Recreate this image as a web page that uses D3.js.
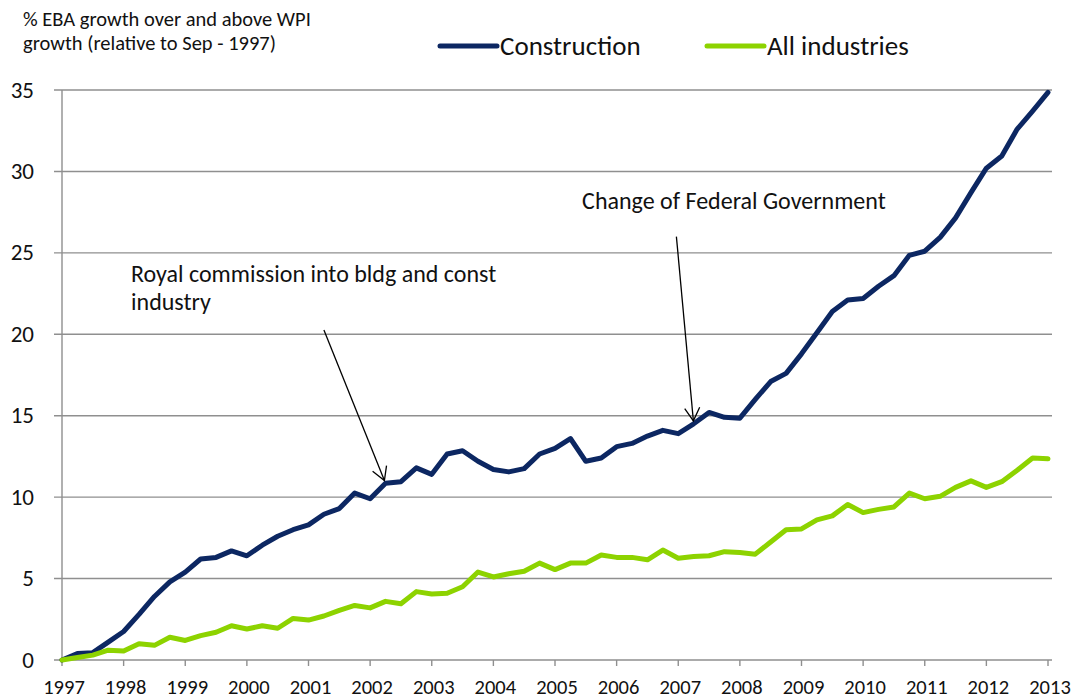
<!DOCTYPE html>
<html>
<head>
<meta charset="utf-8">
<script src="https://cdn.jsdelivr.net/npm/d3@7"></script>
<style>
  body { margin: 0; background: #fff; }
  svg { display: block; font-family: Carlito, Lato, sans-serif; }
</style>
</head>
<body>
<div id="chart"></div>
<script>
'use strict';

// quarterly series, first point = Sep 1997
const startYear = 1997;
const endYear = 2013;
const construction = [
  0, 0.4, 0.45, 1.1, 1.75, 2.8, 3.9, 4.8, 5.4, 6.2, 6.3, 6.7, 6.4, 7.05, 7.6, 8.0,
  8.3, 8.95, 9.3, 10.25, 9.9, 10.85, 10.95, 11.8, 11.4, 12.65, 12.85, 12.2, 11.7, 11.55, 11.75, 12.65,
  13.0, 13.6, 12.2, 12.4, 13.1, 13.3, 13.75, 14.1, 13.9, 14.5, 15.2, 14.9, 14.85, 16.0, 17.1, 17.6,
  18.8, 20.1, 21.4, 22.1, 22.2, 22.95, 23.6, 24.85, 25.1, 25.95, 27.15, 28.7, 30.2, 30.95, 32.6, 33.7,
  34.85
];
const allIndustries = [
  0, 0.15, 0.3, 0.6, 0.55, 1.0, 0.9, 1.4, 1.2, 1.5, 1.7, 2.1, 1.9, 2.1, 1.95, 2.55,
  2.45, 2.7, 3.05, 3.35, 3.2, 3.6, 3.45, 4.2, 4.05, 4.1, 4.5, 5.4, 5.1, 5.3, 5.45, 5.95,
  5.55, 5.95, 5.95, 6.45, 6.3, 6.3, 6.15, 6.75, 6.25, 6.35, 6.4, 6.65, 6.6, 6.5, 7.25, 8.0,
  8.05, 8.6, 8.85, 9.55, 9.05, 9.25, 9.4, 10.25, 9.9, 10.05, 10.6, 11.0, 10.6, 10.95, 11.65, 12.4,
  12.35
];
const seriesNames = ['Construction', 'All industries'];
const seriesColors = ['#0c2762', '#8dd300'];
const yTicks = [0, 5, 10, 15, 20, 25, 30, 35];
const xTicks = d3.range(startYear, endYear + 1);
const titleLines = ['% EBA growth over and above WPI', 'growth (relative to Sep - 1997)'];
const annotationTexts = [
  ['Royal commission into bldg and const', 'industry'],
  ['Change of Federal Government']
];
const annotationQuarters = [21, 41];

const width = 1080;
const height = 699;
const margin = {top: 90, right: 32, bottom: 39, left: 62};

const svg = d3.select('#chart')
  .append('svg')
  .attr('width', width)
  .attr('height', height);

const x = d3.scaleLinear()
  .domain([startYear, endYear])
  .range([margin.left, width - margin.right]);

const y = d3.scaleLinear()
  .domain([0, 35])
  .range([height - margin.bottom, margin.top]);

const quarterYear = i => startYear + i / 4;

// gridlines + y ticks
svg.append('g')
  .selectAll('line')
  .data(yTicks.filter(d => d > 0))
  .enter()
  .append('line')
  .attr('x1', margin.left - 8)
  .attr('x2', x(endYear) + 4)
  .attr('y1', d => y(d))
  .attr('y2', d => y(d))
  .attr('stroke', '#8f8f8f')
  .attr('stroke-width', 1.4);

svg.append('g')
  .selectAll('text')
  .data(yTicks)
  .enter()
  .append('text')
  .attr('x', 34)
  .attr('y', d => y(d))
  .attr('dy', '0.33em')
  .attr('text-anchor', 'end')
  .style('font-size', '23px')
  .style('fill', '#111')
  .text(d => d);

// axes lines
svg.append('line')
  .attr('x1', x(startYear))
  .attr('x2', x(startYear))
  .attr('y1', y(35))
  .attr('y2', y(0))
  .attr('stroke', '#8f8f8f')
  .attr('stroke-width', 1.4);

svg.append('line')
  .attr('x1', margin.left - 8)
  .attr('x2', x(endYear) + 4)
  .attr('y1', y(0))
  .attr('y2', y(0))
  .attr('stroke', '#8f8f8f')
  .attr('stroke-width', 1.4);

const xTickGroup = svg.append('g')
  .selectAll('g')
  .data(xTicks)
  .enter()
  .append('g');

xTickGroup.append('line')
  .attr('x1', d => x(d))
  .attr('x2', d => x(d))
  .attr('y1', y(0))
  .attr('y2', y(0) + 6)
  .attr('stroke', '#8f8f8f')
  .attr('stroke-width', 1.4);

xTickGroup.append('text')
  .attr('x', d => x(d) + 2)
  .attr('y', y(0) + 34)
  .attr('text-anchor', 'middle')
  .style('font-size', '20.5px')
  .style('fill', '#111')
  .text(d => d);

// series lines
const line = d3.line()
  .x((d, i) => x(quarterYear(i)))
  .y(d => y(d));

[construction, allIndustries].forEach(function(series, k){
  svg.append('path')
    .datum(series)
    .attr('d', line)
    .attr('fill', 'none')
    .attr('stroke', seriesColors[k])
    .attr('stroke-width', 5)
    .attr('stroke-linejoin', 'round')
    .attr('stroke-linecap', 'round');
});

// title
svg.append('text')
  .attr('x', 23)
  .attr('y', 26)
  .style('font-size', '20.5px')
  .style('fill', '#111')
  .selectAll('tspan')
  .data(titleLines)
  .enter()
  .append('tspan')
  .attr('x', 23)
  .attr('dy', (d, i) => i === 0 ? 0 : 24)
  .text(d => d);

// legend
const legendX = [440, 707];
const legend = svg.append('g')
  .selectAll('g')
  .data(seriesNames)
  .enter()
  .append('g');

legend.append('line')
  .attr('x1', (d, i) => legendX[i])
  .attr('x2', (d, i) => legendX[i] + 57)
  .attr('y1', 46)
  .attr('y2', 46)
  .attr('stroke', (d, i) => seriesColors[i])
  .attr('stroke-width', 5)
  .attr('stroke-linecap', 'round');

legend.append('text')
  .attr('x', (d, i) => legendX[i] + 60)
  .attr('y', 54.5)
  .style('font-size', '27px')
  .style('fill', '#111')
  .text(d => d);

// annotations with arrows
const annLabel = [[1998.12, 23.23], [2005.44, 27.67]];
const annStart = [[2001.25, 20.26], [2006.97, 26.0]];

annotationTexts.forEach(function(lines, k){
  svg.append('text')
    .attr('x', x(annLabel[k][0]))
    .attr('y', y(annLabel[k][1]))
    .style('font-size', '24px')
    .style('fill', '#111')
    .selectAll('tspan')
    .data(lines)
    .enter()
    .append('tspan')
    .attr('x', x(annLabel[k][0]))
    .attr('dy', (d, i) => i === 0 ? 0 : 28.5)
    .text(d => d);

  const q = annotationQuarters[k];
  const x0 = x(annStart[k][0]), y0 = y(annStart[k][1]);
  let x1 = x(quarterYear(q)), y1 = y(construction[q]);
  const ang = Math.atan2(y1 - y0, x1 - x0);
  x1 -= 3 * Math.cos(ang);
  y1 -= 3 * Math.sin(ang);
  const wing = 15, spread = Math.PI / 6;

  svg.append('line')
    .attr('x1', x0)
    .attr('y1', y0)
    .attr('x2', x1)
    .attr('y2', y1)
    .attr('stroke', '#000')
    .attr('stroke-width', 1.3);

  svg.append('path')
    .attr('d', d3.line()([
      [x1 - wing * Math.cos(ang - spread), y1 - wing * Math.sin(ang - spread)],
      [x1, y1],
      [x1 - wing * Math.cos(ang + spread), y1 - wing * Math.sin(ang + spread)]
    ]))
    .attr('fill', 'none')
    .attr('stroke', '#000')
    .attr('stroke-width', 1.3);
});
</script>
</body>
</html>
